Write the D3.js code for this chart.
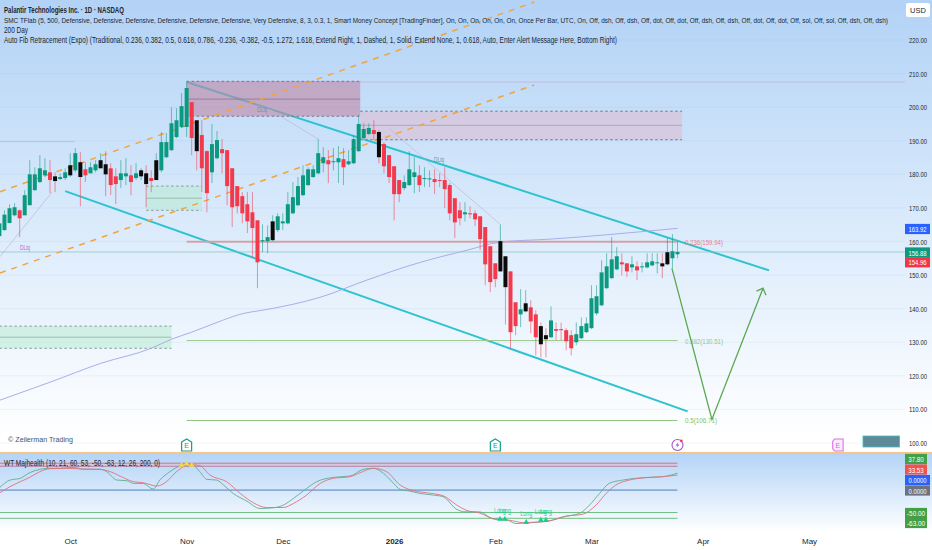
<!DOCTYPE html>
<html>
<head>
<meta charset="utf-8">
<script src="https://cdn.jsdelivr.net/npm/d3@7"></script>
<style>
  html, body { margin: 0; padding: 0; background: #fff; }
  svg { display: block; font-family: "Liberation Sans", sans-serif; }
</style>
</head>
<body>
<svg id="chart" width="932" height="550"></svg>
<script>
// candles, one entry per trading day
const opens = [161.6,163.4,165.5,167.8,169.3,167.8,170.8,175.3,177.7,179.7,180.6,179.4,178.6,178.9,179.7,181.2,183.6,181.5,180.3,181.2,181.8,183,181.8,179.4,178.3,179.4,179.7,178.9,179.4,180.3,178.9,178.3,181.2,185.1,187.2,191.1,194.1,194.1,201.5,196.1,191.7,186.9,180.6,184.8,187.5,187.2,181.8,176.5,173.5,171.1,168.7,166.3,160.1,160.1,160.4,163.4,165.4,165.4,168.4,170.8,173.8,176.8,179.2,180.3,183.3,184.2,183.6,183.6,184.5,183,183.3,186.9,190.8,192,193.2,192.6,189,185.7,182.4,178.3,175.9,176.8,179.2,179.7,178.6,178.5,178.6,178.3,178.3,176.8,172.9,169.3,168.1,168.4,168.4,167.5,164.3,158.6,153.5,151.1,155.6,151.1,141.9,138.3,139.2,140.4,138.3,134.8,132.1,131.5,133.9,133.9,133.6,132.1,130,131.2,133,134.2,138.6,141,146.1,149.1,151.7,153.8,153.5,152.3,152.6,152.3,152.3,152.9,153.5,153.5,153.2,155,156.2];
const highs = [166.3,169.3,171.1,171.4,169.6,175.3,184.2,182.1,185.7,184.8,184.2,180.6,180.3,181.8,186.3,187.8,186.6,183.6,183.6,184.2,186.3,186.9,183.3,181.8,184.2,184.8,182.7,183.3,181.8,182.7,181.2,186.3,192.6,192.3,200,199.7,204.2,207.5,201.5,196.1,196.1,187.2,195,192.9,190.5,187.2,181.8,176.5,174.7,174.7,174.7,166.3,165.1,164.8,167.8,168.4,168.4,174.7,177.7,179.2,182.7,182.1,182.7,190.5,188.1,187.2,187.8,188.4,187.8,187.2,191.7,197.6,195.2,195.2,196.1,193.2,189.6,185.7,182.4,178.3,179.7,186.9,185.1,182.7,182.1,181.2,181.5,180.3,182.1,177.4,172.9,171.7,171.7,170.5,169.3,167.5,164.3,158.6,153.5,165.1,155.6,151.1,141.9,145.8,145.5,142.5,139.5,135.9,134.2,140.7,135.9,135.9,134.2,133.6,135.9,137.4,137.4,147,147,154.4,156.5,161.3,158.3,156.5,153.5,155.6,154.1,153.8,156.5,156.5,156.5,156.5,161,162.2,160.1];
const lows = [159.5,163.2,165.4,167.5,161.3,167.8,170.8,175,177.4,179.2,174.4,174.7,178.3,178.3,179.2,180.6,170.5,177.7,180.3,180.6,181.8,173.5,173.8,171.1,175.9,176.8,173.8,178.3,178.3,170.2,174.7,178.3,180.6,184.8,186.9,190.8,193.8,191.1,185.7,181.2,174.7,168.7,177.4,184.5,180.3,170.8,164.3,168.4,165.4,162.5,155.3,146.1,156.8,156.5,160.1,162.8,163.4,165.1,168.1,170.5,173.5,176.5,178.9,180,180.6,177.4,181.2,177.4,176.8,182.7,183,186.6,190.5,191.7,190.2,183.3,180.3,177.4,166.3,171.7,175.3,176.5,174.4,174.7,176.2,176.2,174.1,176.2,169.9,166.3,161,164.8,166,166.9,164.6,157.4,147,144.9,146.4,151.1,135.3,128.2,132.1,134.5,138.9,132.7,126.1,125.5,125.5,131.2,130.6,130.6,127.6,126.1,129.1,130.9,132.7,133.9,138,140.7,145.8,148.8,151.4,149.9,149.4,150.8,148.5,150.8,152,152.6,150.5,149.1,152.9,152,155];
const closes = [165.4,168,169.9,170.2,166.9,173.8,180,180,181.8,181.2,178.3,178,179.2,180.6,182.7,186.3,179.2,179.7,182.1,183,184.2,180,176.8,177.1,180.3,180.3,177.7,180.3,181.2,177.1,178,184.2,189.6,189.6,195.2,196.1,200.3,205.7,190.8,186.9,181.8,174.4,189,190.2,186.3,176.5,170.2,170.5,168.4,166,164,153.8,160.4,161.3,166,167.5,166,171.1,173.2,176.5,179.7,181.5,181.5,186.3,185.1,183,183.9,184.8,182.1,183.9,190.5,195,193.5,193.8,192,185.1,182.4,179.2,174.1,174.1,177.7,181.5,180.6,176.8,178.9,178.8,177.7,178,175.6,168.4,165.7,166.9,168.7,168.1,166.6,160.7,153.2,147.9,148.8,160.1,146.4,133,134.8,139.8,141.6,136.2,131.5,129.4,130.9,136.5,133.4,133.6,130.3,128.2,132.4,134.8,135.6,143.1,143.7,150.8,152.6,154.7,155.6,153.2,151.1,153.2,151.4,152.6,153.8,154.1,153.8,152.6,156.8,157.1,156.88];
// bars the indicator paints black
const blackBars = [11,14,16,20,21,28,29,31,39,54,75,99,100,104,107,108,131,132];

// 200 day average
const maBars = [0,10,20,30,34,38,43,47.5,53,58,63.4,72.6,82.5,92.4,98.9,108.8,134];
const maValues = [112.7,118.1,123.7,128.2,130.9,133,135.9,138.3,139.8,141.3,143.4,148.5,153.5,157.4,159.8,160.7,163.92];

// WT oscillator
const wt1Bars = [0.1,2.1,4.1,6,8,10,12,14.6,16.6,19.9,21.2,23.2,25.2,26.5,28.4,30.4,31.7,33.7,35.7,37,38.3,39.6,41,42.9,44.3,46.2,48.9,51.5,54.1,56.1,58.1,60.1,62.7,66,69.3,71.9,73.9,75.9,77.9,79.2,81.1,83.1,85.8,87.7,90.4,92.2,94.8,97.5,100.1,102.1,105.4,108.7,111.3,114.6,116.6,118.6,120.5,123.2,127.1,131.1,134];
const wt1Values = [6,22.4,26.2,38.9,46.3,48.6,48.6,50.8,46.3,46.3,41.1,22.4,20.9,14.9,14.9,2.2,22.4,41.1,54.6,59.8,56.1,41.1,23.9,22.4,11.2,-7.5,-24.7,-41.1,-39.6,-33.6,-18.7,-1.5,18.7,28.4,31.4,46.3,48.6,37.4,14.9,1.5,-2.2,-7.5,-11.2,-14.9,-43.3,-48.6,-48.6,-63.5,-65.8,-74.7,-72.5,-68.8,-59.8,-52.3,-33.6,-7.5,14.9,22.4,27.7,29.9,37.8];
const wt2Bars = [0.1,2.1,4.1,6,8,10,13.3,16.6,19.9,21.9,24.5,26.5,28.4,31.1,33,35,37.7,39.6,41.6,44.9,47.6,50.2,52.8,56.1,58.1,60.7,63.4,66,69.3,71.3,73.9,76.5,79.2,81.8,84.4,87.7,90.4,92.2,94.8,98.1,100.8,103.4,106.7,109.3,112,115.3,117.9,119.9,121.8,124.5,127.8,131.1,134];
const wt2Values = [-6,7.5,18.7,28.4,41.1,47.8,48.6,47.1,46.3,41.1,27.7,18.7,16.4,9,18.7,41.1,56.8,54.6,33.6,18.7,-7.5,-28.4,-38.9,-38.9,-29.9,-11.2,14.9,26.2,29.9,38.9,48.6,41.1,11.2,-1.5,-6,-12.7,-33.6,-44.8,-50.8,-65.8,-67.3,-72.5,-71,-67.3,-58.3,-53.8,-33.6,-7.5,11.2,22.4,27.7,29.9,33.53];

// axis labels
const priceTicks = [100,110,120,130,140,150,160,170,180,190,200,210,220];
const monthBars = [14,37,56,78,98,117,139,160];
const monthLabels = ['Oct','Nov','Dec','2026','Feb','Mar','Apr','May'];

// drawings: [bar, price]
const upperDash = [[0.1,174.8],[105.7,231.3]];
const lowerDash = [[0.1,150.6],[105.7,206.6]];
const channelTop = [[37,207.5],[152.1,151.4]];
const channelBottom = [[13,175],[136,109.4]];
const forecastPath = [[132.9,152],[140.8,107],[150.9,146.1]];
const liqLines = [[[0,155.3],[10.4,174.7]],[[52.9,199.7],[63,190.5]],[[77,193.7],[98.9,165.2]]];

// order blocks: [from bar, to bar, top, mid, bottom]
const supplyZones = [[37,71.3,207.7,202.4,197.3],[71.3,134.9,198.8,194.6,190.3]];
const demandZones = [[29,40,176.5,172.9,169.3],[0,34,134.8,131.5,128.2]];

const fibLevels = [159.94,130.51,106.71];
const fibLabels = ['0.236(159.94)','0.382(130.51)','0.5(106.71)'];
const wtLevels = [60,53,0,-50,-63];

const longBars = [98.9,99.9,104.1,107,108];
const longValues = [-65,-65,-72,-67,-67];
const crossBars = [36,37,38];
const crossValues = [56,59,56];

const legendLines = [
  'Palantir Technologies Inc. · 1D · NASDAQ',
  'SMC TFlab (5, 500, Defensive, Defensive, Defensive, Defensive, Defensive, Defensive, Very Defensive, 8, 3, 0.3, 1, Smart Money Concept [TradingFinder], On, On, On, On, On, On, Once Per Bar, UTC, On, Off, dsh, Off, dsh, Off, dot, Off, dot, Off, dsh, Off, dsh, Off, dot, Off, dot, Off, sol, Off, sol, Off, dsh, Off, dsh)',
  '200 Day',
  'Auto Fib Retracement (Expo) (Traditional, 0.236, 0.382, 0.5, 0.618, 0.786, -0.236, -0.382, -0.5, 1.272, 1.618, Extend Right, 1, Dashed, 1, Solid, Extend None, 1, 0.618, Auto, Enter Alert Message Here, Bottom Right)'
];
const legendWidths = [120, 884, 24, 613];
const legendSizes = [8.4, 7.6, 8.4, 8.4];

const svg = d3.select('#chart');
const GREEN = '#0b9a80', RED = '#f23a4c', TEXT = '#20262f', AXIS_X = 905;

const x = d3.scaleLinear().domain([0, 134]).range([-0.6, 677.5]);
const y = d3.scaleLinear().domain([100, 220]).range([443, 40]);
const wtY = d3.scaleLinear().domain([-63, 60]).range([518.3, 463.2]);

// squeeze a label to the width it has in the picture
function fit(sel, w) {
  return sel.attr('textLength', w).attr('lengthAdjust', 'spacingAndGlyphs');
}

// background gradients
const defs = svg.append('defs');
function addGradient(id, stops) {
  const g = defs.append('linearGradient').attr('id', id).attr('x1', 0).attr('x2', 0).attr('y1', 0).attr('y2', 1);
  stops.forEach(s => g.append('stop').attr('offset', s[0]).attr('stop-color', s[1]));
}
addGradient('mainBg', [[0, '#b2d2f6'], [0.45, '#d6e8fb'], [1, '#ffffff']]);
addGradient('subBg', [[0, '#b4d4f7'], [1, '#ffffff']]);
svg.append('rect').attr('width', 932).attr('height', 550).attr('fill', '#fff');
svg.append('rect').attr('width', 932).attr('height', 440).attr('fill', 'url(#mainBg)');
svg.append('rect').attr('y', 454).attr('width', 932).attr('height', 78).attr('fill', 'url(#subBg)');

// grid
svg.append('g').selectAll('line').data(priceTicks).enter().append('line')
  .attr('x1', 0).attr('x2', AXIS_X).attr('y1', d => y(d)).attr('y2', d => y(d))
  .attr('stroke', '#7f9cc0').attr('stroke-opacity', 0.1);

const line = d3.line().x(d => x(d[0])).y(d => y(d[1]));

// teal falling channel, the zones tint it where they cross
svg.append('g').selectAll('path').data([channelTop, channelBottom]).enter().append('path')
  .attr('d', line).attr('fill', 'none').attr('stroke', '#2cc3d0').attr('stroke-width', 2);

// order blocks
function drawZones(zones, fill, dashColor, midColor) {
  const g = svg.append('g').selectAll('g').data(zones).enter().append('g');
  g.append('rect')
    .attr('x', d => x(d[0])).attr('width', d => x(d[1]) - x(d[0]))
    .attr('y', d => y(d[2])).attr('height', d => y(d[4]) - y(d[2]))
    .attr('fill', fill);
  [2, 4].forEach(k => {
    g.append('line')
      .attr('x1', d => x(d[0])).attr('x2', d => x(d[1]))
      .attr('y1', d => y(d[k])).attr('y2', d => y(d[k]))
      .attr('stroke', dashColor).attr('stroke-dasharray', '2.5,2.5');
  });
  g.append('line')
    .attr('x1', d => x(d[0])).attr('x2', d => x(d[1]))
    .attr('y1', d => y(d[3])).attr('y2', d => y(d[3]))
    .attr('stroke', midColor).attr('stroke-width', 1);
}
svg.append('rect').attr('x', x(37)).attr('y', y(207.7)).attr('width', AXIS_X - x(37)).attr('height', 1.5).attr('fill', '#c9a0c0').attr('fill-opacity', 0.35);
drawZones([supplyZones[0]], 'rgba(192,135,165,0.6)', '#85708a', '#9b7c98');
drawZones([supplyZones[1]], 'rgba(220,190,210,0.6)', '#7a7488', '#b3a5b8');
drawZones(demandZones, 'rgba(180,235,205,0.5)', '#8c9a98', '#9dbcae');

// level lines behind the candles
svg.append('line').attr('x1', 0).attr('x2', 75).attr('y1', 141.5).attr('y2', 141.5).attr('stroke', '#a9b6c8').attr('stroke-opacity', 0.6);
svg.append('line').attr('x1', 0).attr('x2', AXIS_X).attr('y1', y(156.88)).attr('y2', y(156.88)).attr('stroke', '#86c3b8').attr('stroke-opacity', 0.7);

const fibColors = ['#d0a3a6', '#9cc98f', '#8cc47f'];
const fibWidths = [2, 1, 1];
const fibTextWidths = [38, 38, 32];
svg.append('g').selectAll('line').data(fibLevels).enter().append('line')
  .attr('x1', x(37)).attr('x2', x(134))
  .attr('y1', d => y(d)).attr('y2', d => y(d))
  .attr('stroke', (d, i) => fibColors[i]).attr('stroke-width', (d, i) => fibWidths[i]);
svg.append('g').selectAll('text').data(fibLabels).enter().append('text')
  .attr('x', 685).attr('y', (d, i) => y(fibLevels[i]) + 3)
  .attr('font-size', 7.6).attr('fill', (d, i) => ['#e57f86', '#93c98b', '#7cc16e'][i])
  .attr('textLength', (d, i) => fibTextWidths[i]).attr('lengthAdjust', 'spacingAndGlyphs').text(d => d);

// thin liquidity sweeps
svg.append('g').selectAll('path').data(liqLines).enter().append('path')
  .attr('d', line).attr('fill', 'none').attr('stroke', '#b7b3cc').attr('stroke-opacity', 0.75).attr('stroke-width', 0.8);

// 200 day
svg.append('path')
  .datum(maBars.map((b, i) => [b, maValues[i]]))
  .attr('d', line.curve(d3.curveMonotoneX)).attr('fill', 'none')
  .attr('stroke', '#a9aee8').attr('stroke-width', 1);
line.curve(d3.curveLinear);

// orange dashed channel
svg.append('g').selectAll('path').data([upperDash, lowerDash]).enter().append('path')
  .attr('d', line).attr('fill', 'none')
  .attr('stroke', '#f0a53c').attr('stroke-width', 1.5).attr('stroke-dasharray', '6,6');

// candles
const candles = svg.append('g').selectAll('g').data(opens.map((o, i) => i)).enter().append('g');
const isUp = i => closes[i] >= opens[i];
candles.append('line')
  .attr('x1', i => x(i)).attr('x2', i => x(i))
  .attr('y1', i => y(highs[i])).attr('y2', i => y(lows[i]))
  .attr('stroke', i => isUp(i) ? GREEN : RED).attr('stroke-opacity', 0.55).attr('stroke-width', 1);
candles.append('rect')
  .attr('x', i => x(i) - 2).attr('width', 4)
  .attr('y', i => y(Math.max(opens[i], closes[i])))
  .attr('height', i => Math.max(1, Math.abs(y(opens[i]) - y(closes[i]))))
  .attr('fill', i => blackBars.includes(i) ? '#0a0a0a' : (isUp(i) ? GREEN : RED));

// projected path
svg.append('path').datum(forecastPath).attr('d', line).attr('fill', 'none')
  .attr('stroke', '#5aa850').attr('stroke-width', 1.3);
const tip = forecastPath[2];
svg.append('path')
  .attr('d', `M${x(tip[0]) - 6.5},${y(tip[1]) + 3} L${x(tip[0])},${y(tip[1])} L${x(tip[0]) + 3},${y(tip[1]) + 7}`)
  .attr('fill', 'none').attr('stroke', '#5aa850').attr('stroke-width', 1.3);

// liquidity tags
fit(svg.append('text').attr('x', 20).attr('y', 250).attr('font-size', 6.5).attr('fill', '#b266e0').text('DLiq'), 10);
fit(svg.append('text').attr('x', 257).attr('y', 112).attr('font-size', 6.5).attr('fill', '#5f94ad').text('DLiq'), 10);
fit(svg.append('text').attr('x', 434).attr('y', 162).attr('font-size', 6.5).attr('fill', '#5f94ad').text('DLiq'), 10);

// legend
const legendY = [13, 23, 33, 43];
svg.append('g').selectAll('text').data(legendLines).enter().append('text')
  .attr('x', 4).attr('y', (d, i) => legendY[i])
  .attr('font-size', (d, i) => legendSizes[i]).attr('fill', TEXT)
  .attr('font-weight', (d, i) => i === 0 ? 700 : 400)
  .attr('textLength', (d, i) => legendWidths[i]).attr('lengthAdjust', 'spacingAndGlyphs').text(d => d);

// price axis
const priceAxis = d3.axisRight(y).tickValues(priceTicks).tickSize(0).tickFormat(d3.format('.2f'));
const priceG = svg.append('g').attr('transform', 'translate(909,0)').call(priceAxis);
priceG.select('.domain').remove();
fit(priceG.selectAll('text').attr('x', 0).attr('font-size', 7.8).attr('font-family', '"Liberation Sans", sans-serif').attr('fill', TEXT), 18);

// USD button
svg.append('rect').attr('x', 906).attr('y', 3).attr('width', 24).attr('height', 14).attr('rx', 2).attr('fill', '#fff');
svg.append('text').attr('x', 918).attr('y', 13).attr('text-anchor', 'middle').attr('font-size', 7.5).attr('fill', TEXT).text('USD');

// right side tags
function tag(label, cy, fill, w) {
  svg.append('rect').attr('x', AXIS_X).attr('y', cy - 5.1).attr('width', w).attr('height', 10.2).attr('fill', fill);
  fit(svg.append('text').attr('x', AXIS_X + w / 2).attr('y', cy + 3).attr('text-anchor', 'middle')
    .attr('font-size', 7.8).attr('fill', '#fff').text(label), label.length > 5 ? 18 : 15.5);
}
tag('163.92', 229, '#2962ff', 25);
tag('156.88', 252.5, GREEN, 25);
tag('154.96', 262.3, '#f23645', 25);

// bottom of main pane: copyright, events
fit(svg.append('text').attr('x', 8).attr('y', 442).attr('font-size', 8).attr('fill', '#4a5260').text('© Zeilerman Trading'), 65);

function eventIcon(cx, color) {
  const g = svg.append('g').attr('transform', `translate(${cx},445)`);
  g.append('path').attr('d', 'M-5,-3 L0,-6 L5,-3 L5,6 L-5,6 Z').attr('fill', '#fff').attr('fill-opacity', 0.75)
    .attr('stroke', color).attr('stroke-width', 1.2);
  g.append('text').attr('y', 3.4).attr('text-anchor', 'middle').attr('font-size', 7).attr('fill', color).text('E');
}
eventIcon(x(37), '#12a08a');
eventIcon(x(98), '#12a08a');

const bolt = svg.append('g').attr('transform', `translate(${x(134)},445)`);
bolt.append('circle').attr('r', 5.5).attr('fill', '#fff').attr('fill-opacity', 0.7).attr('stroke', '#a055c8').attr('stroke-width', 1.1);
bolt.append('path').attr('d', 'M1,-3 L-2,0.5 L0,0.5 L-1,3 L2,-0.5 L0,-0.5 Z').attr('fill', '#a055c8');
bolt.append('circle').attr('cx', 3.8).attr('cy', -4.2).attr('r', 1.4).attr('fill', '#f23645');

const pinkE = svg.append('g').attr('transform', `translate(${x(165.7)},445)`);
pinkE.append('path').attr('d', 'M-3.5,-6 L5.2,-6 L5.2,6 L-3.5,6 L-5.2,3.5 L-5.2,-3.5 Z').attr('fill', '#f9eefc').attr('stroke', '#e26ee6').attr('stroke-width', 1.1);
pinkE.append('text').attr('y', 3.4).attr('text-anchor', 'middle').attr('font-size', 7).attr('fill', '#d85fe0').text('E');

svg.append('rect').attr('x', 863).attr('y', 436).attr('width', 36.5).attr('height', 11)
  .attr('fill', '#5f8899').attr('stroke', '#3dc0c8').attr('stroke-width', 0.8);

// pane separator
svg.append('line').attr('x1', 0).attr('x2', 932).attr('y1', 453).attr('y2', 453).attr('stroke', '#f3b25f').attr('stroke-width', 1.5);

// WT pane
svg.append('rect').attr('x', 0).attr('width', x(134)).attr('y', wtY(60)).attr('height', wtY(53) - wtY(60)).attr('fill', '#eab8d0').attr('fill-opacity', 0.6);
const wtColors = ['#c97a86', '#b08aa5', '#4d7fc0', '#6dc083', '#6dc083'];
svg.append('g').selectAll('line').data(wtLevels).enter().append('line')
  .attr('x1', 0).attr('x2', x(134))
  .attr('y1', d => wtY(d)).attr('y2', d => wtY(d))
  .attr('stroke', (d, i) => wtColors[i]).attr('stroke-width', 1);

const wtLine = d3.line().x(d => x(d[0])).y(d => wtY(d[1])).curve(d3.curveMonotoneX);
svg.append('path').datum(wt1Bars.map((b, i) => [b, wt1Values[i]])).attr('d', wtLine)
  .attr('fill', 'none').attr('stroke', '#5fae8d').attr('stroke-width', 0.9);
svg.append('path').datum(wt2Bars.map((b, i) => [b, wt2Values[i]])).attr('d', wtLine)
  .attr('fill', 'none').attr('stroke', '#e0727e').attr('stroke-width', 0.9);

// crosses and long signals
const tri = d3.symbol().type(d3.symbolTriangle).size(14);
svg.append('g').selectAll('path').data(crossBars).enter().append('path')
  .attr('d', tri).attr('transform', (d, i) => `translate(${x(d)},${wtY(crossValues[i])})`).attr('fill', '#f3d84a');
const longs = svg.append('g').selectAll('g').data(longBars).enter().append('g')
  .attr('transform', (d, i) => `translate(${x(d)},${wtY(longValues[i])})`);
longs.append('path').attr('d', tri).attr('fill', '#19cf8e');
fit(longs.append('text').attr('y', -6).attr('text-anchor', 'middle').attr('font-size', 7).attr('fill', '#19cf8e').text('Long'), 12);

fit(svg.append('text').attr('x', 4).attr('y', 466).attr('font-size', 8.4).attr('fill', TEXT).text('WT Majhealth (10, 21, 60, 53, -50, -63, 12, 26, 200, 0)'), 156);

tag('37.80', 459, '#43a047', 22);
tag('33.53', 469.5, '#ef5350', 22);
tag('0.0000', 480, '#2962ff', 25);
tag('0.0000', 490.5, '#6b7280', 25);
tag('-50.00', 513, '#43a047', 22);
tag('-63.00', 523, '#43a047', 22);

// time axis
const timeAxis = d3.axisBottom(x).tickValues(monthBars).tickSize(0)
  .tickFormat((d, i) => monthLabels[i]);
const timeG = svg.append('g').attr('transform', 'translate(0,534)').call(timeAxis);
timeG.select('.domain').remove();
timeG.selectAll('text').attr('y', 4).attr('font-size', 8).attr('font-family', '"Liberation Sans", sans-serif').attr('fill', TEXT)
  .attr('font-weight', (d, i) => monthLabels[i] === '2026' ? 700 : 400);
</script>
</body>
</html>
